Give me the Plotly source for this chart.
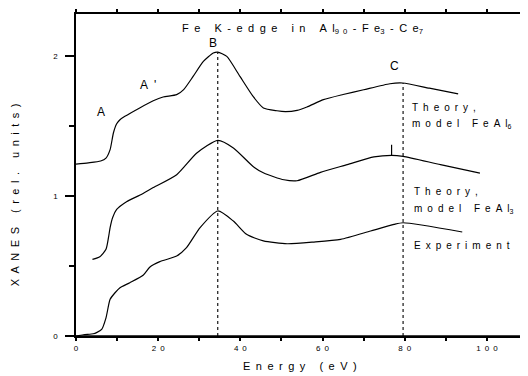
import plotly.graph_objects as go

# ---------------- data ----------------
theory6_x = [0, 3, 6, 7.3, 8.3, 9.1, 9.9, 10.7, 11.9, 15.5, 18.8, 21.2, 24.5, 26.2, 28.5, 31, 33.4, 34.5,
             36.7, 39.9, 43.1, 45.6, 48.9, 51, 53.8, 56.2, 60.2, 65, 70, 76.4, 79.5, 86, 93]
theory6_y = [1.228, 1.237, 1.25, 1.271, 1.331, 1.45, 1.516, 1.545, 1.569, 1.629, 1.68, 1.707, 1.724, 1.76,
             1.854, 1.961, 2.021, 2.028, 1.997, 1.854, 1.711, 1.629, 1.609, 1.603, 1.612, 1.636, 1.688,
             1.725, 1.759, 1.802, 1.807, 1.77, 1.73]

theory3_x = [4.0, 5.8, 7.3, 7.9, 8.3, 8.9, 9.9, 12.3, 15.6, 18.8, 24.5, 29.4, 34.5, 38.3, 43.1, 45.7,
             50.6, 53.8, 59.5, 66, 72.5, 76.8, 79.6, 88.7, 98.3]
theory3_y = [0.547, 0.566, 0.619, 0.702, 0.774, 0.845, 0.904, 0.959, 1.007, 1.06, 1.152, 1.307, 1.397,
             1.343, 1.211, 1.164, 1.116, 1.109, 1.169, 1.224, 1.279, 1.29, 1.283, 1.224, 1.164]

exp_x = [0, 1.8, 4.2, 5.0, 6.25, 7.3, 8.3, 9.5, 10.7, 13.1, 16.4, 18.0, 20.4, 24.5, 26.9, 30.2, 34.5,
         38.3, 41.5, 45.6, 51.4, 57.9, 64.4, 71.7, 77.4, 79.6, 94.0]
exp_y = [0.0, 0.009, 0.016, 0.024, 0.047, 0.13, 0.262, 0.309, 0.345, 0.381, 0.436, 0.493, 0.531, 0.571,
         0.631, 0.774, 0.893, 0.821, 0.726, 0.679, 0.659, 0.671, 0.69, 0.75, 0.797, 0.809, 0.743]

# feature markers (energy, top of dotted line)
feature_B = (34.5, 2.026)
feature_C = (79.6, 1.807)
tick_mark_x = 76.8
tick_mark_y = [1.29, 1.366]

x_tickvals = [0, 10, 20, 30, 40, 50, 60, 70, 80, 90, 100, 110]
x_ticklabels = ["0", "", "20", "", "40", "", "60", "", "80", "", "100", ""]
y_tickvals = [0, 1, 2]
y_minor_tickvals = [0.5, 1.5]

FONT = "Arial, Liberation Sans, sans-serif"
SP = "\u2002"


def spaced(s):
    return SP.join(list(s))


fig = go.Figure()
for xs, ys in [(theory6_x, theory6_y), (theory3_x, theory3_y), (exp_x, exp_y)]:
    fig.add_trace(go.Scatter(x=xs, y=ys, mode="lines",
                             line=dict(color="black", width=1.2, shape="spline", smoothing=0.6),
                             showlegend=False, hoverinfo="skip"))

fig.add_trace(go.Scatter(x=[tick_mark_x, tick_mark_x], y=tick_mark_y, mode="lines",
                         line=dict(color="black", width=1.2), showlegend=False, hoverinfo="skip"))

for fx, fy in [feature_B, feature_C]:
    fig.add_trace(go.Scatter(x=[fx, fx], y=[0, fy], mode="lines",
                             line=dict(color="black", width=1.1, dash="dot"), showlegend=False, hoverinfo="skip"))

ann = []


def add_text(x, y, text, size=11, xanchor="center", angle=0, xref="x", yref="y"):
    ann.append(dict(x=x, y=y, xref=xref, yref=yref, text=text, showarrow=False, xanchor=xanchor,
                    yanchor="middle", textangle=angle, font=dict(family=FONT, size=size, color="black")))


title = (spaced("Fe K-edge in Al") + "<sub>" + spaced("90") + "</sub>" + SP + spaced("-Fe") + "<sub>3</sub>"
         + SP + spaced("-Ce") + "<sub>7</sub>")
add_text(55, 2.19, title, size=11)
add_text(6.1, 1.602, "A", size=12)
add_text(17.4, 1.795, "A" + SP + "'", size=12)
add_text(33.4, 2.093, "B", size=12)
add_text(77.6, 1.926, "C", size=12)
add_text(81.4, 1.635, spaced("Theory,"), size=10, xanchor="left")
add_text(81.4, 1.515, spaced("model FeAl") + "<sub>6</sub>", size=10, xanchor="left")
add_text(81.8, 1.03, spaced("Theory,"), size=10, xanchor="left")
add_text(81.8, 0.91, spaced("model FeAl") + "<sub>3</sub>", size=10, xanchor="left")
add_text(81.8, 0.645, spaced("Experiment"), size=10, xanchor="left")
# outside the plot area: paper coordinates
add_text(0.496, -0.092, spaced("Energy (eV)"), size=11, xref="paper", yref="paper")
add_text(-0.135, 0.44, spaced("XANES (rel. units)"), size=11, angle=-90, xref="paper", yref="paper")

fig.update_layout(
    width=520, height=368,
    margin=dict(l=68, r=0, t=6, b=40),
    paper_bgcolor="white", plot_bgcolor="rgba(0,0,0,0)",
    annotations=ann,
    xaxis=dict(range=[0, 110], showgrid=False, zeroline=False, showline=True, linecolor="black", linewidth=2,
               mirror="ticks",
               ticks="outside", ticklen=3, tickwidth=1.5, tickcolor="black",
               tickvals=x_tickvals, ticktext=[spaced(t) for t in x_ticklabels],
               tickfont=dict(family=FONT, size=8, color="black")),
    yaxis=dict(range=[0, 2.3], showgrid=False, zeroline=False, showline=True, linecolor="black", linewidth=1.5,
               ticks="outside", ticklen=9, tickwidth=1.5, tickcolor="black", tickvals=y_tickvals,
               ticklabelstandoff=6,
               minor=dict(tickvals=y_minor_tickvals, ticks="outside", ticklen=5, tickwidth=1.5, tickcolor="black",
                          showgrid=False),
               tickfont=dict(family=FONT, size=8, color="black")),
)

# frame baseline (x axis) drawn explicitly as well, spanning the plot width
fig.add_shape(type="line", xref="paper", yref="paper", x0=-0.02, x1=1, y0=0, y1=0,
              line=dict(color="black", width=1.6), layer="above")

fig.write_html("out.html")
